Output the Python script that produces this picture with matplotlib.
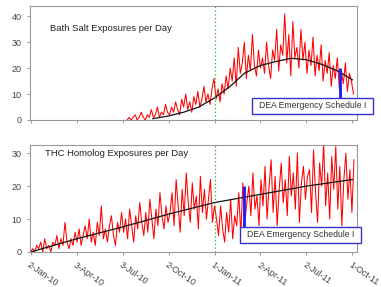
import numpy as np
import matplotlib
matplotlib.use("Agg")
import matplotlib.pyplot as plt
import matplotlib.dates as mdates
from datetime import date, timedelta

plt.rcParams['font.family'] = ['Liberation Sans', 'DejaVu Sans']

# ---- datos (muestras cada 4 dias) ----
bath_start = date(2010, 7, 12)
bath_vals = [0, 1, 0, 1, 2, 0, 1, 3, 1, 0, 2, 1, 4, 1, 2, 5, 1, 3, 2, 6, 3,
             2, 5, 3, 7, 4, 2, 8, 5, 10, 4, 7, 3, 9, 6, 11, 5, 8, 13, 7, 10, 6, 12, 16,
             8, 12, 7, 14, 10, 17, 12, 20, 15, 24, 13, 28, 18, 22, 30, 16, 25, 19, 33, 21, 17, 27, 20,
             24, 18, 30, 21, 16, 27, 23, 35, 19, 29, 25, 41, 22, 33, 17, 38, 24, 28, 20, 35, 23, 30, 18,
             27, 21, 32, 17, 25, 19, 29, 15, 23, 18, 26, 13, 21, 16, 24, 12, 19, 14, 22, 11, 18, 15, 10]

thc_start = date(2010, 1, 2)
thc_vals = [0, 1, 0, 2, 1, 3, 0, 4, 1, 2, 0, 3, 2, 5, 1, 4, 2, 9, 3, 1, 4, 2, 6,
            3, 7, 2, 5, 8, 4, 10, 3, 6, 2, 9, 5, 14, 4, 7, 3, 8, 11, 5, 2, 9, 6, 12,
            6, 10, 4, 13, 8, 3, 11, 7, 15, 9, 5, 12, 6, 16, 10, 4, 13, 8, 18, 11, 7, 14, 9,
            12, 18, 8, 22, 14, 6, 19, 11, 24, 15, 9, 21, 13, 17, 7, 23, 12, 19, 10, 16, 22, 9, 14,
            10, 5, 14, 7, 3, 12, 6, 16, 4, 11, 8, 18, 5, 21, 9, 15, 20, 11, 24, 13, 17, 8, 22,
            14, 26, 10, 20, 28, 12, 23, 8, 19, 27, 15, 22, 11, 29, 17, 24, 13, 30, 9, 21, 26, 16, 23,
            25, 12, 31, 18, 9, 27, 20, 33, 14, 24, 10, 29, 19, 32, 13, 26, 8, 22, 30, 16, 25, 12, 28]

# tendencias (valores mensuales / trimestrales)
bath_trend_dates = [date(2010, 9, 1), date(2010, 10, 1), date(2010, 11, 1), date(2010, 12, 1),
                    date(2011, 1, 1), date(2011, 2, 1), date(2011, 3, 1), date(2011, 4, 1),
                    date(2011, 5, 1), date(2011, 6, 1), date(2011, 7, 1), date(2011, 8, 1),
                    date(2011, 9, 1), date(2011, 10, 1)]
bath_trend = [0.5, 1.5, 3, 5, 8.5, 13, 18, 21, 22.5, 23.8, 23.3, 21.5, 19, 15.5]

thc_trend_dates = [date(2010, 1, 2), date(2010, 4, 3), date(2010, 7, 3), date(2010, 10, 2),
                   date(2011, 1, 1), date(2011, 4, 2), date(2011, 7, 2), date(2011, 10, 1)]
thc_trend = [0, 4, 7.6, 11.5, 15, 17.5, 20, 22]

tick_dates = [date(2010, 1, 2), date(2010, 4, 3), date(2010, 7, 3), date(2010, 10, 2),
              date(2011, 1, 1), date(2011, 4, 2), date(2011, 7, 2), date(2011, 10, 1)]
tick_labels = ['2-Jan-10', '3-Apr-10', '3-Jul-10', '2-Oct-10',
               '1-Jan-11', '2-Apr-11', '2-Jul-11', '1-Oct-11']

ny_date = date(2011, 1, 1)
bath_sched = date(2011, 9, 7)
thc_sched = date(2011, 3, 1)
box_text = 'DEA Emergency Schedule I'

bath_dates = [bath_start + timedelta(days=4 * i) for i in range(len(bath_vals))]
thc_dates = [thc_start + timedelta(days=4 * i) for i in range(len(thc_vals))]

fig = plt.figure(figsize=(3.81, 2.87), dpi=100)
ax1 = fig.add_axes([0.079, 0.582, 0.858, 0.397])
ax2 = fig.add_axes([0.079, 0.122, 0.858, 0.373])

def estilo(ax, ymax, yticks):
    ax.set_xlim(date(2010, 1, 1), date(2011, 10, 10))
    ax.set_ylim(0, ymax)
    ax.set_yticks(yticks)
    ax.set_xticks(tick_dates)
    for s in ax.spines.values():
        s.set_color('#999999')
        s.set_linewidth(0.8)
    ax.tick_params(colors='#999999', labelcolor='#444444', labelsize=6.5,
                   length=2.5, width=0.7, direction='out')
    ax.axvline(ny_date, color='#33aa33', linestyle=(0, (1, 2)), linewidth=0.9)

# panel superior
ax1.plot(bath_dates, bath_vals, color='#ff0000', linewidth=0.75)
ax1.plot(bath_trend_dates, bath_trend, color='#111111', linewidth=0.9)
estilo(ax1, 44, [0, 10, 20, 30, 40])
ax1.set_xticklabels([])
ax1.text(0.061, 0.807, 'Bath Salt Exposures per Day', transform=ax1.transAxes,
         fontsize=6.8, color='#222222', va='center')

# panel inferior
ax2.plot(thc_dates, thc_vals, color='#ff0000', linewidth=0.75)
ax2.plot(thc_trend_dates, thc_trend, color='#111111', linewidth=0.9)
estilo(ax2, 32.5, [0, 10, 20, 30])
ax2.set_xticklabels(tick_labels, rotation=-35, ha='left', va='top',
                    rotation_mode='anchor')
ax2.text(0.046, 0.916, 'THC Homolog Exposures per Day', transform=ax2.transAxes,
         fontsize=6.8, color='#222222', va='center')

# barras azules y cajas
def caja(ax, x0, x1, y0, y1, ymax, fecha, ytop):
    ax.vlines(fecha, y1 * ymax, ytop, color='#1a1aff', linewidth=2)
    r = plt.Rectangle((x0, y0), x1 - x0, y1 - y0, transform=ax.transAxes,
                      facecolor='white', edgecolor='#3333cc', linewidth=1,
                      clip_on=False, zorder=5)
    ax.add_patch(r)
    ax.text((x0 + x1) / 2, (y0 + y1) / 2, box_text, transform=ax.transAxes,
            ha='center', va='center', fontsize=6.2, color='#333333', zorder=6,
            clip_on=False)

caja(ax1, 0.679, 1.049, 0.053, 0.193, 44, bath_sched, 20)
caja(ax2, 0.642, 1.012, 0.084, 0.234, 32.5, thc_sched, 20)

plt.savefig('out.png', dpi=100)
